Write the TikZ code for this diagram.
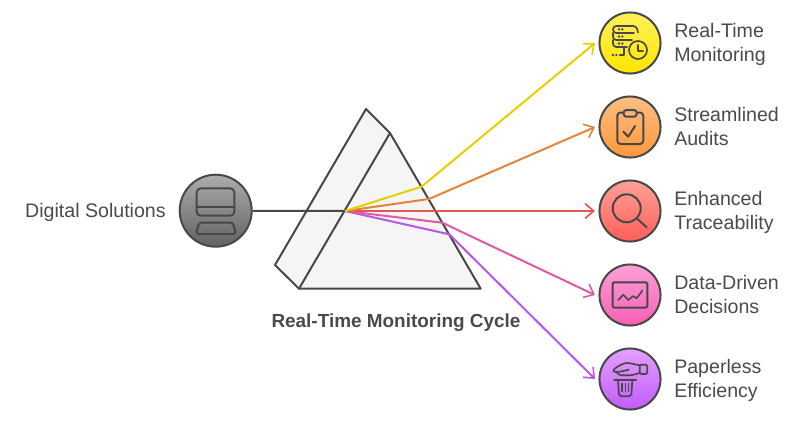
\documentclass[tikz,border=0pt]{standalone}
\usepackage{fontspec}
\setmainfont{Liberation Sans}
\usetikzlibrary{arrows.meta}
\definecolor{ink}{HTML}{484848}
\definecolor{txt}{HTML}{4A4A4A}
\definecolor{prismfill}{HTML}{F5F5F5}
\definecolor{cyel}{HTML}{E6CF00}
\definecolor{cora}{HTML}{E4843A}
\definecolor{cred}{HTML}{E2574F}
\definecolor{cpin}{HTML}{DE5AA8}
\definecolor{cpur}{HTML}{B957E6}
\newcommand{\lbstrut}{\rule[-4pt]{0pt}{14pt}}
\tikzset{
  x=0.75pt,y=-0.75pt,
  icon/.style={draw=ink,line width=1.5pt,line cap=round,line join=round},
  thin icon/.style={icon,line width=1.25pt},
  dot/.style={fill=ink,draw=none},
  disc/.style={circle,draw=ink,line width=1.5pt,minimum size=45.8pt,inner sep=0pt},
  label/.style={anchor=west,align=left,text=txt,font=\fontsize{14.7}{18}\selectfont,inner sep=0pt},
  beam/.style={line width=1.5pt,line join=round},
  ray/.style={beam,-{Straight Barb[length=6.5pt,width=11pt,line width=1.2pt]}},
}
\begin{document}
\begin{tikzpicture}
\useasboundingbox (0,0) rectangle (804,422);
% prism
\coordinate (pa) at (366,109);
\coordinate (pb) at (390,133);
\coordinate (pc) at (480.7,288.7);
\coordinate (pd) at (299,288.7);
\coordinate (pe) at (275,265);
\draw[icon,fill=prismfill] (pa) -- (pb) -- (pc) -- (pd) -- (pe) -- cycle;
\draw[icon] (pb) -- (pd);
% nodes
\node[disc,minimum size=54pt,top color={rgb,255:red,172;green,172;blue,172},bottom color={rgb,255:red,98;green,98;blue,98}] (digital) at (215.7,210.7) {};
\node[disc,top color={rgb,255:red,255;green,240;blue,90},bottom color={rgb,255:red,255;green,230;blue,0}] (n1) at (630,43) {};
\node[disc,top color={rgb,255:red,255;green,190;blue,130},bottom color={rgb,255:red,255;green,152;blue,60}] (n2) at (630,127) {};
\node[disc,top color={rgb,255:red,255;green,160;blue,150},bottom color={rgb,255:red,255;green,96;blue,88}] (n3) at (630,211) {};
\node[disc,top color={rgb,255:red,251;green,160;blue,216},bottom color={rgb,255:red,249;green,95;blue,181}] (n4) at (630,295) {};
\node[disc,top color={rgb,255:red,227;green,160;blue,255},bottom color={rgb,255:red,194;green,91;blue,255}] (n5) at (630,379) {};
% beams
\coordinate (focus) at (345,211);
\coordinate (b1) at (421.5,186.7);
\coordinate (b2) at (429,199);
\coordinate (b4) at (442.3,222.7);
\coordinate (b5) at (449.3,234.3);
\coordinate (t1) at (595,43);
\coordinate (t2) at (595,127);
\coordinate (t3) at (595,211);
\coordinate (t4) at (595,295);
\coordinate (t5) at (595,379);
\draw[beam,ink] (digital) -- (focus);
\draw[ray,cpur] (focus) -- (b5) -- (t5);
\draw[ray,cpin] (focus) -- (b4) -- (t4);
\draw[ray,cred] (focus) -- (t3);
\draw[ray,cora] (focus) -- (b2) -- (t2);
\draw[ray,cyel] (focus) -- (b1) -- (t1);
% digital icon
\draw[icon,rounded corners=3pt] (196.7,188.3) rectangle (234.3,215.7);
\draw[icon] (196.7,207.3) -- (234.3,207.3);
\draw[icon,rounded corners=2pt] (199,222.7) -- (233,222.7) -- (236,234) -- (196,234) -- cycle;
% icon 1 servers
\draw[thin icon,rounded corners=2.5pt] (638,32.5) -- (636.5,26) -- (613,26) -- (613,33) -- (634,33);
\draw[thin icon,rounded corners=2.5pt] (613,33) -- (613,40) -- (632,40);
\draw[thin icon,rounded corners=2.5pt] (613,40) -- (613,47) -- (627,47);
\foreach \yy in {29.3,36.5,43.5}{
  \fill[dot] (619,\yy) circle[radius=1.3];
  \fill[dot] (622.3,\yy) circle[radius=1.3];
}
\fill[dot] (613,55) circle[radius=1.3];
\fill[dot] (616.3,55) circle[radius=1.3];
\draw[thin icon] (619.7,55) -- (624,55) -- (624,47.5);
\draw[thin icon] (638,50) circle[radius=9];
\draw[thin icon] (638,45) -- (638,50.7) -- (643,50.7);
% icon 2 clipboard
\draw[icon,rounded corners=2.5pt] (617.3,112.5) rectangle (643.3,144);
\draw[icon,rounded corners=2pt,fill={rgb,255:red,255;green,180;blue,115}] (623.7,110) rectangle (636.7,116.7);
\draw[icon] (623.3,131.7) -- (628.3,136.7) -- (635,126);
% icon 3 magnifier
\draw[icon] (626.7,208.3) circle[radius=14];
\draw[icon] (637,218.5) -- (646.7,227.3);
% icon 4 chart
\draw[icon,rounded corners=1pt] (612.7,282.3) rectangle (647.3,307.7);
\draw[icon,line width=1.2pt] (618.3,300) -- (623.3,294.7) -- (628.3,300) -- (633.3,296) -- (636.7,298.3) -- (642.3,290.7);
% icon 5 hand and bin
\draw[thin icon,rounded corners=1pt] (639.7,364.7) rectangle (647.3,374);
\draw[thin icon] (639.7,365.3) .. controls (635,364.5) and (630,362.8) .. (626.3,363) .. controls (622,363.5) and (617,367) .. (614.7,368.7) .. controls (612.5,370) and (612.5,371.5) .. (616.3,372) .. controls (620,372) and (625,370.5) .. (628.7,369.7);
\draw[thin icon] (639.7,373) .. controls (636,374) and (632,375.3) .. (629.7,375.3) -- (621.3,375.3) .. controls (619,375.2) and (617.5,373.5) .. (616.3,372);
\draw[thin icon] (614,379.7) -- (636.3,379.7);
\draw[thin icon,rounded corners=1.5pt] (618,379.7) -- (619,396.3) -- (631.3,396.3) -- (632.3,379.7);
\draw[icon,line width=1pt] (622,383.5) -- (622,391.3) (625.3,383.5) -- (625.3,391.3) (628.7,383.5) -- (628.7,391.3);
% labels
\node[label,anchor=base east] (l0) at (166,217.3) {Digital Solutions};
\node[label] (l1) at (674,45) {\lbstrut Real-Time\\\lbstrut Monitoring};
\node[label] (l2) at (674,129) {\lbstrut Streamlined\\\lbstrut Audits};
\node[label] (l3) at (674,213) {\lbstrut Enhanced\\\lbstrut Traceability};
\node[label] (l4) at (674,297) {\lbstrut Data-Driven\\\lbstrut Decisions};
\node[label] (l5) at (674,381) {\lbstrut Paperless\\\lbstrut Efficiency};
\node[anchor=base,text=txt,inner sep=0pt,font=\fontsize{14.2}{16}\selectfont\bfseries] (title) at (396,327) {Real-Time Monitoring Cycle};
\end{tikzpicture}
\end{document}
